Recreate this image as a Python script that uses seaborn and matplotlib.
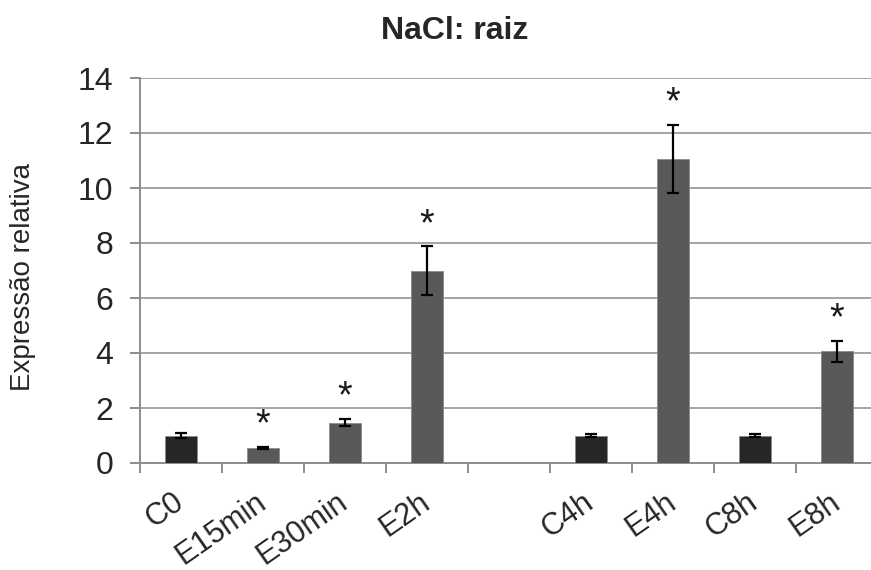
import matplotlib
matplotlib.use("Agg")
import matplotlib.pyplot as plt
from matplotlib.ticker import FixedLocator, MultipleLocator
import seaborn as sns
import pandas as pd

# Relative expression in root under NaCl treatment
categories = ["C0", "E15min", "E30min", "E2h", "C4h", "E4h", "C8h", "E8h"]
values = [1.0, 0.55, 1.47, 7.0, 1.0, 11.06, 1.0, 4.07]
errors = [0.10, 0.05, 0.13, 0.88, 0.07, 1.23, 0.07, 0.38]
groups = ["C", "E", "E", "E", "C", "E", "C", "E"]
significant = [False, True, True, True, False, True, False, True]
# axis order, with an empty slot between E2h and C4h
order = ["C0", "E15min", "E30min", "E2h", " ", "C4h", "E4h", "C8h", "E8h"]

df = pd.DataFrame({"amostra": categories, "expressao": values, "grupo": groups})

sns.set_theme(style="white")
plt.rcParams["font.family"] = ["Liberation Sans", "DejaVu Sans"]

fig = plt.figure(figsize=(8.71, 5.70), dpi=100)
ax = fig.add_axes([140 / 871, 107 / 570, 738 / 871, 385 / 570])

sns.barplot(data=df, x="amostra", y="expressao", hue="grupo", order=order,
            palette={"C": "#262626", "E": "#595959"}, dodge=False, width=0.4,
            errorbar=None, legend=False, edgecolor="#8a8a8a", linewidth=0.6,
            ax=ax, zorder=3)

pos = [order.index(c) for c in categories]
ax.errorbar(pos, values, yerr=errors, fmt="none", ecolor="black",
            elinewidth=1.6, capsize=4.5, capthick=1.6, zorder=4)

for p, v, e, s in zip(pos, values, errors, significant):
    if s:
        ax.text(p, v + e + 0.78, "*", ha="center", va="center",
                fontsize=27, color="#1a1a1a", zorder=5)

ax.set_ylim(0, 14)
ax.set_xlim(-0.5, len(order) - 0.5)
ax.yaxis.set_major_locator(MultipleLocator(2))
ax.grid(axis="y", color="#a4a4a4", linewidth=1.4, zorder=0)
ax.set_axisbelow(True)

for side in ("top", "right"):
    ax.spines[side].set_visible(False)
for side in ("left", "bottom"):
    ax.spines[side].set_color("#8c8c8c")
    ax.spines[side].set_linewidth(1.4)

ax.set_xticks(range(len(order)))
ax.set_xticklabels(order, rotation=35, ha="right", va="center",
                   rotation_mode="anchor", fontsize=22)
ax.xaxis.set_minor_locator(FixedLocator([i - 0.5 for i in range(len(order) + 1)]))
ax.tick_params(axis="x", which="major", length=0, pad=26)
ax.tick_params(axis="x", which="minor", length=7, width=1.4, color="#8c8c8c",
               direction="out", bottom=True)
ax.tick_params(axis="y", which="major", length=7, width=1.4, color="#8c8c8c",
               direction="out", left=True, labelsize=23, pad=12)

ax.set_xlabel("")
ax.set_ylabel("Expressão relativa", fontsize=20)
ax.yaxis.set_label_coords(-0.141, 0.484)
ax.set_title("NaCl: raiz", fontsize=23, fontweight="bold", pad=28,
             x=(455 - 140) / 738)

fig.savefig("out.png", dpi=100)
